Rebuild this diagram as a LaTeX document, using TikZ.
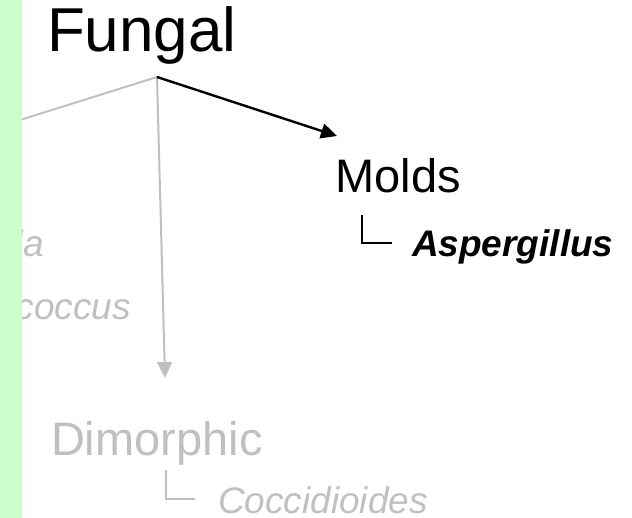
\documentclass[tikz,border=0pt]{standalone}
\usepackage{fontspec}
\setmainfont{Liberation Sans}
\usepackage{tikz}
\usetikzlibrary{arrows.meta}
\definecolor{bandgreen}{HTML}{CCFFCC}
\definecolor{fadegray}{HTML}{C0C0C0}

\begin{document}
\begin{tikzpicture}[x=1pt, y=-1pt,
  lbl/.style={inner sep=0pt, outer sep=0pt},
  big/.style={lbl, font=\fontsize{62}{70}\selectfont},
  cat/.style={lbl, font=\fontsize{47}{54}\selectfont},
  sp/.style={lbl, font=\fontsize{37}{42}\selectfont\itshape},
  arr/.style={-{Triangle[length=16pt, width=15pt]}, line width=2.4pt},
  garr/.style={-{Triangle[length=16pt, width=15pt]}, line width=2pt, fadegray},
  hook/.style={line width=1.2pt}
]
\useasboundingbox (0,0) rectangle (632,518);
% titles
\node[big, anchor=base west] (fungal) at (47,52) {Fungal};
\node[cat, anchor=base west] (molds) at (335.5,193) {Molds};
\node[cat, anchor=base west, text=fadegray] (dimorphic) at (51,456) {Dimorphic};
% species
\node[sp, anchor=base west, font=\fontsize{37}{42}\selectfont\bfseries\itshape] (asp) at (412,257) {Aspergillus};
\node[sp, anchor=base west, text=fadegray] (cocci) at (218,513) {Coccidioides};
\node[sp, anchor=base east, text=fadegray] (candida) at (44,257) {Candida};
\node[sp, anchor=base east, text=fadegray] (crypto) at (131,320) {Cryptococcus};
% branches
\coordinate (root) at (157,77);
\coordinate (yeasts) at (20,120);
\coordinate (moldtip) at (337,136);
\coordinate (dimtip) at (165,378);
\draw[line width=2pt, fadegray] (root) -- (yeasts);
\draw[garr] (root) -- (dimtip);
\draw[arr] (root) -- (moldtip);
% hooks
\draw[hook] (362,215) |- (392,243);
\draw[hook, fadegray] (166,470) |- (195,499);
% side band
\fill[bandgreen] (0,0) rectangle (22,518);
\end{tikzpicture}
\end{document}
